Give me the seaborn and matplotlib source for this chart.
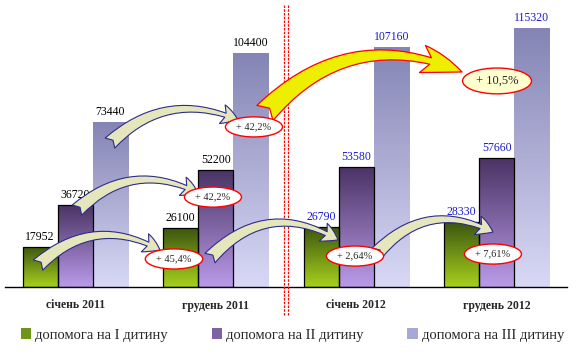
import numpy as np
import pandas as pd
import seaborn as sns
import matplotlib.pyplot as plt
from matplotlib.patches import FancyArrowPatch, Patch
from matplotlib.colors import LinearSegmentedColormap

months = ["січень 2011", "грудень 2011", "січень 2012", "грудень 2012"]
series = ["допомога на І дитину", "допомога на ІІ дитину", "допомога на ІІІ дитину"]
child1 = [17952, 26100, 26790, 28830]
child2 = [36720, 52200, 53580, 57660]
child3 = [73440, 104400, 107160, 115320]
label_txt = [["17952", "26100", "26790", "28330"],
             ["36720", "52200", "53580", "57660"],
             ["73440", "104400", "107160", "115320"]]
growth = ["+ 45,4%", "+ 42,2%", "+ 42,2%", "+ 2,64%", "+ 7,61%", "+ 10,5%"]

df = pd.DataFrame({
    "month": months * 3,
    "series": [series[0]] * 4 + [series[1]] * 4 + [series[2]] * 4,
    "value": child1 + child2 + child3,
})

# top colour -> bottom colour of each gradient
grad = {
    series[0]: ("#3d5610", "#a6d01c"),
    series[1]: ("#4a3364", "#b99ae8"),
    series[2]: ("#8585b5", "#d8d8f6"),
}
mid = {k: v for k, v in zip(series, ["#6f9418", "#7e62a6", "#a8a8d6"])}

sns.set_style("white")
plt.rcParams["font.family"] = ["Liberation Serif", "DejaVu Serif"]

fig = plt.figure(figsize=(5.85, 3.55), dpi=100)
ax = fig.add_axes([5 / 585, 68 / 355, 562 / 585, 287 / 355])

sns.barplot(data=df, x="month", y="value", hue="series", palette=mid,
            width=0.75, saturation=1, edgecolor="none", legend=False, ax=ax)

ymax = 128000
ax.set_xlim(-0.5, 3.5)
ax.set_ylim(0, ymax)

# gradient fill clipped to each bar
for cont, s in zip(ax.containers, series):
    cmap = LinearSegmentedColormap.from_list(s, [grad[s][1], grad[s][0]])
    g = np.linspace(0, 1, 64).reshape(-1, 1)
    for p in cont:
        x0, y0 = p.get_x(), p.get_y()
        w, h = p.get_width(), p.get_height()
        im = ax.imshow(g, cmap=cmap, extent=[x0, x0 + w, y0, y0 + h],
                       origin="lower", aspect="auto", zorder=p.get_zorder() + 0.1)
        im.set_clip_path(p)
        if s != series[2]:
            ax.add_patch(plt.Rectangle((x0, y0), w, h, fill=False, ec="black",
                                       lw=0.9, zorder=p.get_zorder() + 0.2))
ax.set_xlim(-0.5, 3.5)
ax.set_ylim(0, ymax)

# value labels
for i, cont in enumerate(ax.containers):
    texts = ax.bar_label(cont, labels=label_txt[i], padding=3, fontsize=8.5)
    for j, t in enumerate(texts):
        t.set_color("black" if j < 2 else "#1a1ad0")

# axes styling
for sp in ["top", "left", "right"]:
    ax.spines[sp].set_visible(False)
ax.spines["bottom"].set_color("black")
ax.spines["bottom"].set_linewidth(1.0)
ax.set_yticks([])
ax.set_xlabel("")
ax.set_ylabel("")
ax.set_xticks(range(4))
ax.set_xticklabels(months, fontsize=8.5, fontweight="bold")
ax.tick_params(axis="x", which="major", length=0, pad=9)
ax.set_xticks([-0.5, 0.5, 1.5, 2.5, 3.5], minor=True)
ax.tick_params(axis="x", which="minor", length=4, width=1, color="black", direction="out")

# red separator
for dx in (-0.011, 0.011):
    ax.plot([1.5 + dx, 1.5 + dx], [-0.098, 0.983], color="red", lw=0.9,
            ls=(0, (2, 1)), transform=ax.get_xaxis_transform(), clip_on=False, zorder=6)

# curved arrows
arrows = [
    ((-0.265, 9800), (0.603, 16500), -0.36),
    ((0.012, 34300), (0.874, 41900), -0.35),
    ((0.247, 64200), (1.158, 74500), -0.33),
    ((0.959, 12900), (1.870, 21000), -0.40),
    ((2.148, 15200), (2.973, 24500), -0.38),
]
for a, b, r in arrows:
    ax.add_patch(FancyArrowPatch(a, b, connectionstyle=f"arc3,rad={r}",
                                 arrowstyle="fancy,head_length=1.2,head_width=1.4,tail_width=1.0",
                                 mutation_scale=10, fc="#e6e6bc", ec="#2c2c8c", lw=0.8,
                                 shrinkA=0, shrinkB=0, zorder=7, clip_on=False))
ax.add_patch(FancyArrowPatch((1.350, 77600), (2.753, 95900), connectionstyle="arc3,rad=-0.35",
                             arrowstyle="fancy,head_length=3.0,head_width=2.0,tail_width=1.6",
                             mutation_scale=10, fc="#eeee00", ec="red", lw=0.9,
                             shrinkA=0, shrinkB=0, zorder=7, clip_on=False))

# growth ellipses
ell_pos = [(0.703, 12500), (0.980, 40100), (1.272, 71400),
           (1.991, 13800), (2.973, 14700), (3.002, 91900)]
for k, (txt, (x, y)) in enumerate(zip(growth, ell_pos)):
    fc = "#ffffd0" if k == 5 else "white"
    fs = 9 if k == 5 else 7.5
    ax.text(x, y, txt, ha="center", va="center", fontsize=fs, zorder=8,
            bbox=dict(boxstyle="ellipse,pad=0.25", fc=fc, ec="red", lw=1.0))

handles = [Patch(facecolor=mid[s], edgecolor="none") for s in series]
fig.legend(handles, series, loc="center", bbox_to_anchor=(0.5, 20 / 355), ncol=3,
           frameon=False, fontsize=10.5, handlelength=0.7, handleheight=0.7,
           handletextpad=0.3, columnspacing=3.0)

fig.savefig("out.png", dpi=100)
